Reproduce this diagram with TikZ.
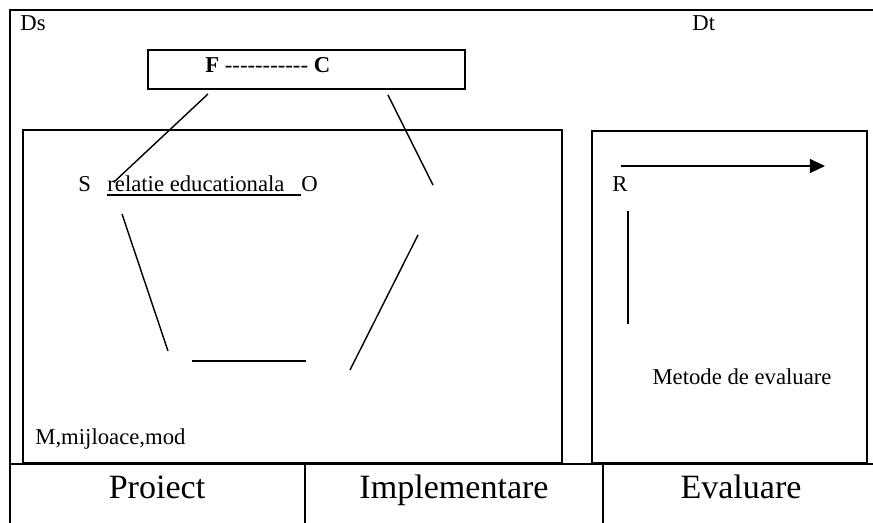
\documentclass[tikz,border=0pt]{standalone}
\usepackage{fontspec}
\setmainfont{Liberation Serif}
\usetikzlibrary{arrows.meta}
\begin{document}
\begin{tikzpicture}[x=0.5286pt, y=-0.5286pt, txt/.style={anchor=base west, inner sep=0pt, font=\fontsize{12}{14}\selectfont}, big/.style={anchor=base, inner sep=0pt, font=\fontsize{18}{21}\selectfont}, seg/.style={line width=0.75pt}]
%        \draw[help lines, step=50] (0,0) grid (873,523);
        \useasboundingbox (0,0) rectangle (873,523);
        \clip (0,0) rectangle (873,523);
        \def\rgt{880}
        \def\bot{530}

        % frame and table
        \draw[line width=1.4pt] (\rgt,10) -- (10,10) -- (10,\bot);
        \draw[line width=1.4pt] (10,464) -- (\rgt,464);
        \draw[line width=1.4pt] (305,464) -- (305,\bot);\draw[line width=1.4pt] (603,464) -- (603,\bot);
        \node[big] (pr) at (157,498) {Proiect};
        \node[big] (im) at (454,498) {Implementare};
        \node[big] (ev) at (741,498) {Evaluare};

        \node[txt] (ds) at (20,31) {Ds};
        \node[txt] (dt) at (692,31) {Dt};

        % top box
        \draw[line width=1.1pt] (148,50) rectangle (465,89);
        \node[txt] (fc) at (205,73) {\textbf{F} -{}-{}-{}-{}-{}-{}-{}-{}-{}-{}- \textbf{C}};

        % left box
        \draw[line width=1pt] (23,130) rectangle (562,463);
        \node[txt] (s) at (78,192) {S};
        \node[txt] (rel) at (107,192) {relatie educationala};
        \node[txt] (o) at (301,192) {O};
        \draw[line width=0.9pt] (107,195) -- (301,195);
        \node[txt] (m) at (35,444) {M,mijloace,mod};

        \draw[seg] (208,94) -- (114,182);\draw[seg] (388,95) -- (433,185);
        \draw[seg] (418,235) -- (350,370);\draw[seg] (192,361) -- (306,361);
        \draw[seg] (122,214) -- (168,351);

        % right box
        \draw[line width=0.75pt] (592,131) rectangle (867,463);
        \node[txt] (r) at (612,192) {R};
        \draw[seg, -{Triangle[length=8pt, width=7.4pt]}] (621,166) -- (825,166);
        \draw[seg] (628,211) -- (628,324);
        \node[txt, anchor=base] (me) at (742,384) {Metode de evaluare};

    \end{tikzpicture}
\end{document}
